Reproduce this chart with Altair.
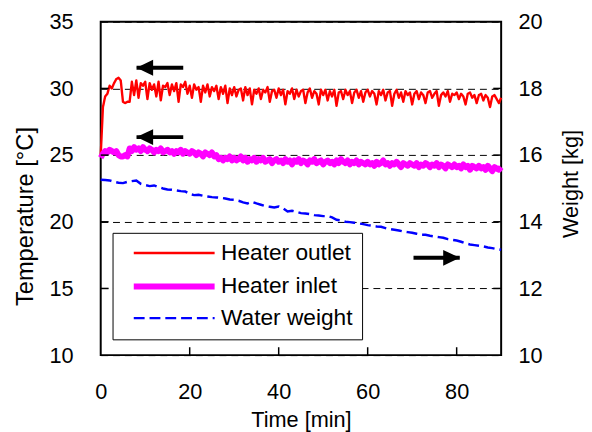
import altair as alt
import pandas as pd

FONT = "Liberation Sans"

# ---------------- data ----------------
time_half = [i * 0.5 for i in range(181)]  # sampling times [min]

heater_outlet = [
    25.0, 28.6, 29.4, 29.6, 30.2, 30.0, 30.4, 30.7, 30.8, 30.6,
    29.0, 28.9, 29.0, 29.0, 30.5, 29.5, 30.6, 29.3, 30.4, 30.2,
    30.5, 29.2, 30.4, 29.9, 30.3, 29.4, 30.5, 29.1, 30.2, 30.1,
    30.4, 29.5, 30.3, 29.8, 30.4, 29.0, 30.3, 30.1, 30.5, 29.6,
    30.2, 29.3, 30.3, 29.9, 30.1, 29.0, 30.2, 29.7, 30.3, 29.4,
    30.1, 29.8, 30.2, 29.2, 30.1, 29.6, 30.2, 28.9, 30.0, 29.5,
    30.1, 29.4, 29.9, 30.0, 29.1, 30.1, 29.5, 30.0, 28.8, 29.9,
    29.6, 30.0, 29.2, 29.9, 29.7, 30.1, 29.0, 29.8, 29.9, 29.3,
    30.0, 29.5, 29.9, 28.8, 29.8, 29.6, 30.0, 29.2, 29.9, 29.4,
    29.8, 29.9, 28.9, 29.7, 30.0, 29.3, 29.8, 29.6, 28.8, 29.9,
    29.5, 29.9, 29.1, 29.8, 29.4, 29.9, 28.7, 29.7, 29.8, 29.2,
    29.9, 29.5, 29.8, 28.9, 29.7, 29.9, 29.3, 29.8, 29.0, 29.7,
    29.9, 29.4, 29.8, 29.6, 28.8, 29.8, 29.5, 29.9, 29.1, 29.7,
    29.8, 28.7, 29.6, 29.9, 29.3, 29.7, 29.0, 29.8, 29.5, 29.7,
    28.8, 29.6, 29.8, 29.2, 29.7, 29.5, 28.9, 29.7, 29.8, 29.3,
    29.6, 29.8, 28.7, 29.5, 29.7, 29.4, 29.8, 29.0, 29.6, 29.5,
    29.7, 29.2, 29.6, 29.4, 28.8, 29.6, 29.7, 29.3, 29.5, 28.9,
    29.5, 29.6, 29.1, 29.5, 29.3, 28.6, 29.4, 29.5, 29.2, 28.9,
    29.3,
]

heater_inlet = [
    24.8, 25.1, 25.3, 25.2, 25.4, 25.3, 25.2, 25.3, 25.0, 24.9,
    24.9, 25.0, 24.9, 25.5, 25.3, 25.6, 25.4, 25.5, 25.3, 25.6,
    25.4, 25.3, 25.5, 25.4, 25.2, 25.4, 25.3, 25.5, 25.2, 25.3,
    25.4, 25.2, 25.3, 25.1, 25.3, 25.2, 25.4, 25.1, 25.3, 25.2,
    25.1, 25.3, 25.2, 25.0, 25.2, 25.1, 24.9, 25.2, 25.1, 25.0,
    25.2, 24.9, 25.0, 24.7, 24.8, 24.6, 24.8, 24.7, 24.9, 24.6,
    24.8, 24.6, 24.7, 24.9, 24.6, 24.8, 24.5, 24.7, 24.6, 24.8,
    24.5, 24.7, 24.6, 24.8, 24.5, 24.6, 24.7, 24.4, 24.6, 24.7,
    24.5, 24.6, 24.4, 24.7, 24.5, 24.6, 24.3, 24.6, 24.5, 24.7,
    24.4, 24.6, 24.5, 24.3, 24.6, 24.5, 24.7, 24.4, 24.5, 24.6,
    24.3, 24.5, 24.6, 24.4, 24.5, 24.3, 24.6, 24.4, 24.7, 24.5,
    24.4, 24.6, 24.3, 24.5, 24.4, 24.6, 24.3, 24.5, 24.4, 24.3,
    24.5, 24.3, 24.4, 24.2, 24.5, 24.3, 24.4, 24.6, 24.3, 24.4,
    24.2, 24.4, 24.3, 24.5, 24.3, 24.1, 24.4, 24.3, 24.2, 24.4,
    24.3, 24.2, 24.4, 24.1, 24.3, 24.2, 24.4, 24.3, 24.1, 24.3,
    24.2, 24.4, 24.1, 24.3, 24.2, 24.0, 24.3, 24.2, 24.1, 24.3,
    24.1, 24.2, 24.0, 24.3, 24.1, 24.2, 23.9, 24.2, 24.1, 24.0,
    24.2, 24.0, 24.1, 23.9, 24.2, 24.0, 23.8, 24.1, 24.0, 23.9,
    24.1,
]

time_min = list(range(91))
water_weight = [
    15.26, 15.25, 15.24, 15.20, 15.17, 15.16, 15.20, 15.22, 15.24, 15.14,
    15.10, 15.07, 15.09, 15.04, 15.00, 14.97, 14.96, 14.94, 14.92, 14.91,
    14.83, 14.80, 14.81, 14.78, 14.76, 14.74, 14.73, 14.72, 14.70, 14.67,
    14.66, 14.63, 14.58, 14.55, 14.60, 14.55, 14.51, 14.47, 14.45, 14.43,
    14.46, 14.40, 14.31, 14.33, 14.30, 14.26, 14.25, 14.23, 14.20, 14.19,
    14.17, 14.17, 14.13, 14.06, 14.04, 14.00, 13.99, 13.97, 13.95, 13.93,
    13.90, 13.88, 13.86, 13.85, 13.81, 13.78, 13.76, 13.74, 13.71, 13.69,
    13.67, 13.64, 13.61, 13.61, 13.58, 13.56, 13.54, 13.52, 13.48, 13.46,
    13.44, 13.40, 13.35, 13.32, 13.30, 13.28, 13.26, 13.23, 13.21, 13.18,
    13.16,
]

series_names = ["Heater outlet", "Heater inlet", "Water weight"]
series_colors = ["#FF0000", "#FF00FF", "#0000FF"]
series_widths = [2.4, 6.0, 2.5]
series_dash = [[1, 0], [1, 0], [11, 5]]

# arrows (time of tip, time of tail, temperature level)
arrow_left_tip = [8.05, 8.05]
arrow_left_tail = [18.55, 18.55]
arrow_left_temp = [31.55, 26.35]
arrow_right_tip = [80.7]
arrow_right_tail = [70.3]
arrow_right_temp = [17.3]

x_ticks = [0, 20, 40, 60, 80]
x_inner_ticks = [20, 40, 60, 80]
temp_ticks = [10, 15, 20, 25, 30, 35]
temp_inner_ticks = [15, 20, 25, 30]
weight_ticks = [10, 12, 14, 16, 18, 20]

# ---------------- frames ----------------
temp_df = pd.DataFrame({
    "time": time_half * 2,
    "temp": heater_outlet + heater_inlet,
    "series": [series_names[0]] * len(time_half) + [series_names[1]] * len(time_half),
})
weight_df = pd.DataFrame({"time": time_min, "weight": water_weight,
                          "series": [series_names[2]] * len(time_min)})
arrow_l_df = pd.DataFrame({"time": arrow_left_tip, "time2": arrow_left_tail,
                           "temp": arrow_left_temp})
arrow_r_df = pd.DataFrame({"time": arrow_right_tip, "time2": arrow_right_tail,
                           "temp": arrow_right_temp})
xt_df = pd.DataFrame({"time": x_inner_ticks})
yt_df = pd.DataFrame({"temp": temp_inner_ticks})

W, H = 406, 338

x_scale = alt.Scale(domain=[0, 90], nice=False, zero=False)
t_scale = alt.Scale(domain=[10, 35], nice=False, zero=False)
w_scale = alt.Scale(domain=[10, 20], nice=False, zero=False)

x_axis = alt.Axis(values=x_ticks, grid=False, labelPadding=27, labelFlush=False,
                  title="Time [min]", titleY=65, titleBaseline="middle")
t_axis = alt.Axis(values=temp_ticks, grid=True, gridDash=[7, 5], gridColor="black",
                  gridWidth=1, labelPadding=28, title="Temperature [°C]",
                  titleFontSize=24, labelFlush=False,
                  titleAngle=270, titleX=-76, titleY=197,
                  titleAlign="center", titleBaseline="middle")
w_axis = alt.Axis(values=weight_ticks, orient="right", grid=False, labelPadding=17,
                  labelFlush=False,
                  title="Weight [kg]", titleAngle=270, titleX=70, titleY=164,
                  titleAlign="center", titleBaseline="middle")

X = alt.X("time:Q", scale=x_scale, axis=x_axis)
YT = alt.Y("temp:Q", scale=t_scale, axis=t_axis)

legend = alt.Legend(
    orient="none", legendX=12, legendY=214, title=None,
    symbolType="M-4,0H4", symbolSize=420,
    labelFont=FONT, labelFontSize=23, labelColor="black", labelLimit=400,
    labelExpr="datum.label + '\u00a0\u00a0\u00a0'",
    fillColor="white", strokeColor="black", padding=9, rowPadding=8,
    symbolOffset=40, labelOffset=34, cornerRadius=0,
)

color_enc = alt.Color("series:N", scale=alt.Scale(domain=series_names, range=series_colors),
                      legend=legend)
dash_enc = alt.StrokeDash("series:N", scale=alt.Scale(domain=series_names, range=series_dash),
                          legend=legend)
width_enc = alt.StrokeWidth("series:N", scale=alt.Scale(type="ordinal", domain=series_names,
                                                       range=series_widths),
                            legend=legend)

temp_lines = alt.Chart(temp_df).mark_line(strokeJoin="round").encode(
    x=X, y=YT, color=color_enc, strokeDash=dash_enc, strokeWidth=width_enc,
    order=alt.Order("time:Q"),
)

arrow_l_shaft = alt.Chart(arrow_l_df).mark_rule(color="black", strokeWidth=4).encode(
    x=X, x2="time2:Q", y=YT)
arrow_l_head = alt.Chart(arrow_l_df).mark_point(
    shape="M0,0L2.1,-1L2.1,1Z", filled=True, color="black", opacity=1, size=256,
    strokeWidth=0).encode(x=X, y=YT)
arrow_r_shaft = alt.Chart(arrow_r_df).mark_rule(color="black", strokeWidth=4).encode(
    x=X, x2="time2:Q", y=YT)
arrow_r_head = alt.Chart(arrow_r_df).mark_point(
    shape="M0,0L-2.1,-1L-2.1,1Z", filled=True, color="black", opacity=1, size=256,
    strokeWidth=0).encode(x=X, y=YT)

x_in_ticks = alt.Chart(xt_df).mark_rule(color="black", strokeWidth=1.5).encode(
    x=X, y=alt.value(H - 8), y2=alt.value(H))
yl_in_ticks = alt.Chart(yt_df).mark_rule(color="black", strokeWidth=1.5).encode(
    y=YT, x=alt.value(0), x2=alt.value(8))
yr_in_ticks = alt.Chart(yt_df).mark_rule(color="black", strokeWidth=1.5).encode(
    y=YT, x=alt.value(W - 8), x2=alt.value(W))

left = alt.layer(temp_lines, arrow_l_shaft, arrow_l_head, arrow_r_shaft, arrow_r_head,
                 x_in_ticks, yl_in_ticks, yr_in_ticks)

right = alt.Chart(weight_df).mark_line().encode(
    x=X,
    y=alt.Y("weight:Q", scale=w_scale, axis=w_axis),
    color=color_enc, strokeDash=dash_enc, strokeWidth=width_enc,
)

chart = (
    alt.layer(left, right)
    .resolve_scale(y="independent")
    .properties(width=W, height=H,
                padding={"left": 94, "top": 11, "right": 84, "bottom": 75},
                autosize=alt.AutoSizeParams(type="none"))
    .configure_view(stroke="black", strokeWidth=2)
    .configure_axis(labelFont=FONT, labelFontSize=22, labelColor="black",
                    titleFont=FONT, titleFontSize=22, titleFontWeight="normal",
                    titleColor="black", domain=False, ticks=False, tickSize=0)
    .configure_legend(labelFont=FONT)
)

chart.save("out.html", embed_options={"renderer": "svg", "actions": False})
